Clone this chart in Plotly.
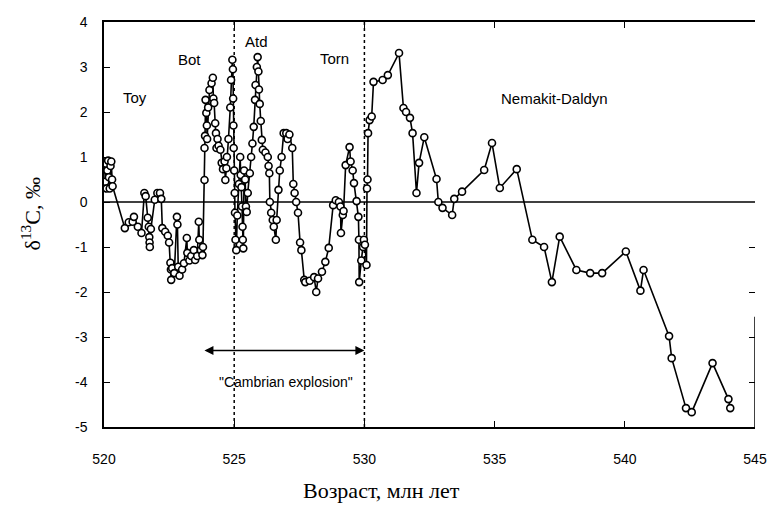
import plotly.graph_objects as go

# Age (Myr) and delta13C values
age = [
    520.02, 520.05, 520.08, 520.10, 520.13, 520.16, 520.19, 520.22, 520.25, 520.28, 520.31, 520.33,
    520.80, 520.95, 521.10, 521.15, 521.30, 521.44, 521.55, 521.60, 521.68, 521.72, 521.74, 521.75,
    521.76, 521.80, 521.95, 522.05, 522.15, 522.20, 522.24, 522.35, 522.45, 522.50, 522.55, 522.57,
    522.58, 522.62, 522.70, 522.80, 522.82, 522.85, 522.90, 523.00, 523.07, 523.18, 523.20, 523.28,
    523.35, 523.45, 523.50, 523.58, 523.64, 523.66, 523.72, 523.78, 523.80, 523.86,
    523.86, 523.88, 523.90, 523.93, 523.95, 523.96, 524.00, 524.05, 524.13, 524.18, 524.20, 524.23,
    524.27, 524.30, 524.32, 524.36, 524.40, 524.47, 524.52, 524.57, 524.63, 524.66, 524.70, 524.72,
    524.78, 524.85, 524.88, 524.93, 524.95, 524.96, 524.97, 524.98, 525.00, 525.02, 525.03, 525.05,
    525.08, 525.12,
    525.18, 525.23, 525.25, 525.28, 525.30, 525.32, 525.33, 525.35, 525.38, 525.42, 525.45, 525.48,
    525.52, 525.60, 525.65, 525.70, 525.75, 525.80, 525.82, 525.87, 525.90, 525.93, 525.95, 525.98,
    526.02, 526.06, 526.10, 526.20, 526.29, 526.32, 526.35, 526.37, 526.42, 526.48, 526.52, 526.60,
    526.63, 526.70, 526.75, 526.82, 526.90, 527.00, 527.05, 527.12, 527.23, 527.27, 527.32, 527.38,
    527.45, 527.53, 527.58, 527.69,
    527.73, 527.90, 528.07, 528.15, 528.22, 528.37, 528.50, 528.63, 528.80, 528.90, 529.02, 529.08,
    529.10, 529.17, 529.20, 529.28, 529.43, 529.47, 529.55, 529.60, 529.70, 529.77, 529.79, 529.80,
    529.88, 529.95, 529.98, 530.02, 530.08, 530.10, 530.12, 530.14, 530.20, 530.28, 530.35, 530.70,
    530.90, 531.33, 531.50, 531.60, 531.75, 531.85, 532.00, 532.10, 532.30, 532.77, 532.84, 533.00,
    533.37, 533.45, 533.75, 534.60, 534.90, 535.20, 535.85, 536.45, 536.90, 537.20, 537.50, 538.14,
    538.67, 539.13, 540.04, 540.60, 540.72, 541.70, 541.80, 542.35, 542.57, 543.37, 543.98, 544.05,
]
d13c = [
    0.90, 0.45, 0.85, 0.30, 0.70, 0.92, 0.55, 0.30, 0.80, 0.90, 0.50, 0.35,
    -0.58, -0.45, -0.44, -0.33, -0.55, -0.69, 0.20, 0.13, -0.35, -0.55, -0.78, -0.90,
    -1.00, -0.60, 0.05, 0.20, 0.20, 0.07, -0.58, -0.66, -0.75, -0.90, -1.35, -1.50,
    -1.73, -1.47, -1.58, -0.33, -0.50, -1.44, -1.64, -1.50, -1.36, -0.80, -1.13, -1.30,
    -1.20, -1.07, -1.29, -1.20, -0.44, -0.84, -1.07, -1.18, -1.00, 0.49,
    1.20, 1.47, 2.27, 1.98, 1.70, 1.40, 2.10, 2.49, 2.64, 2.76, 2.30, 2.20,
    1.75, 1.53, 1.20, 1.40, 1.25, 1.16, 0.87, 0.73, 0.90, 0.49, 0.75, 1.00,
    1.40, 2.10, 2.71, 3.16, 2.95, 2.30, 1.70, 1.20, 0.70, 0.20, -0.24, -0.84,
    -1.07, -0.30,
    0.40, 1.00, 0.60, 0.33, -0.10, -0.55, -0.84, -1.03, 0.70, 0.50, -0.10, -0.22,
    0.20, 0.64, 1.00, 1.30, 1.67, 2.27, 2.60, 3.00, 3.22, 2.90, 2.50, 2.18,
    1.80, 1.38, 1.16, 1.10, 1.00, 0.80, 0.64, 0.00, -0.24, -0.40, -0.55, -0.84,
    -0.40, 0.27, 0.70, 1.00, 1.53, 1.53, 1.40, 1.50, 1.20, 0.40, 0.20, 0.00,
    -0.24, -0.90, -1.07, -1.73,
    -1.78, -1.75, -1.67, -2.00, -1.70, -1.55, -1.33, -1.02, -0.07, 0.04, 0.00, -0.10,
    -0.69, -0.29, -0.20, 0.82, 1.22, 0.90, 0.70, 0.42, 0.02, -0.33, -0.84, -1.78,
    -1.30, -1.00, -0.84, -0.95, -1.40, 0.30, 0.50, 1.53, 1.82, 1.90, 2.67, 2.71,
    2.82, 3.31, 2.09, 2.00, 1.87, 1.53, 0.20, 0.87, 1.44, 0.51, 0.00, -0.13,
    -0.29, 0.07, 0.23, 0.71, 1.31, 0.31, 0.73, -0.84, -1.00, -1.78, -0.77, -1.51,
    -1.58, -1.58, -1.10, -1.97, -1.51, -2.98, -3.47, -4.58, -4.67, -3.58, -4.38, -4.58,
]

x_ticks = [520, 525, 530, 535, 540, 545]
y_ticks = [-5, -4, -3, -2, -1, 0, 1, 2, 3, 4]
y_tick_text = ["-5", "-4", "-3", "-2", "-1", "0", "1", "2", "3", "4"]
boundaries = [525, 530]
stage_names = ["Toy", "Bot", "Atd", "Torn", "Nemakit-Daldyn"]
stage_x = [521.2, 523.3, 525.85, 528.85, 537.3]
stage_y = [2.33, 3.16, 3.56, 3.2, 2.3]

fig = go.Figure()
fig.add_trace(go.Scatter(
    x=age, y=d13c, mode="lines+markers",
    line=dict(color="black", width=1.6),
    marker=dict(symbol="circle", size=7, color="white",
                line=dict(color="black", width=1.6)),
    showlegend=False, hoverinfo="x+y",
))
# invisible trace on right axis to draw right-side ticks
fig.add_trace(go.Scatter(x=[520], y=[0], yaxis="y2", mode="markers",
                         marker=dict(opacity=0), showlegend=False, hoverinfo="skip"))

for b in boundaries:
    fig.add_shape(type="line", x0=b, x1=b, y0=-5, y1=4, xref="x", yref="y",
                  line=dict(color="black", width=1.5, dash="dot"), layer="below")
fig.add_shape(type="line", x0=520, x1=545, y0=0, y1=0, xref="x", yref="y",
              line=dict(color="black", width=1.5), layer="below")
fig.add_shape(type="line", x0=545, x1=545, y0=-2.55, y1=-5, xref="x", yref="y",
              line=dict(color="black", width=1.5))

for name, sx, sy in zip(stage_names, stage_x, stage_y):
    fig.add_annotation(x=sx, y=sy, text=name, showarrow=False, xref="x", yref="y",
                       font=dict(family="Liberation Sans, Arial", size=15, color="black"))

# double-headed arrow
fig.add_annotation(x=530, y=-3.3, ax=523.8, ay=-3.3, xref="x", yref="y", axref="x", ayref="y",
                   text="", showarrow=True, arrowhead=2, startarrowhead=2, arrowside="end+start",
                   arrowwidth=1.5, arrowsize=1.2, startarrowsize=1.2, arrowcolor="black")
fig.add_annotation(x=527.0, y=-4.0, text="\"Cambrian explosion\"", showarrow=False,
                   xref="x", yref="y",
                   font=dict(family="Liberation Sans, Arial", size=14, color="black"))

# axis titles
fig.add_annotation(x=0.426, y=-0.156, xref="paper", yref="paper", showarrow=False,
                   xanchor="center", yanchor="middle",
                   text="Возраст, млн лет",
                   font=dict(family="Liberation Serif, Times New Roman", size=22, color="black"))
fig.add_annotation(x=-0.112, y=0.525, xref="paper", yref="paper", showarrow=False,
                   xanchor="center", yanchor="middle",
                   text="δ<sup>13</sup>C, ‰", textangle=-90,
                   font=dict(family="Liberation Serif, Times New Roman", size=22, color="black"))

fig.update_layout(
    width=779, height=518,
    margin=dict(l=104, r=15, t=22, b=91),
    paper_bgcolor="white", plot_bgcolor="white",
    xaxis=dict(range=[520, 545], tickvals=x_ticks, ticks="inside", ticklen=6, tickwidth=1.2,
               tickcolor="black", showline=True, linecolor="black", linewidth=2, mirror="ticks",
               showgrid=False, zeroline=False, ticklabelstandoff=18,
               tickfont=dict(family="Liberation Sans, Arial", size=14, color="black")),
    yaxis=dict(range=[-5, 4], tickvals=y_ticks, ticktext=y_tick_text, ticks="inside", ticklen=6,
               tickwidth=1.2, tickcolor="black", showline=True, linecolor="black", linewidth=1.5,
               showgrid=False, zeroline=False, ticklabelstandoff=12,
               tickfont=dict(family="Liberation Sans, Arial", size=14, color="black")),
    yaxis2=dict(range=[-5, 4], tickvals=[-4, -3, -2, -1], overlaying="y", side="right",
                ticks="inside", ticklen=6, tickwidth=1.2, tickcolor="black",
                showticklabels=False, showline=False, showgrid=False, zeroline=False),
)

fig.write_html("out.html")
